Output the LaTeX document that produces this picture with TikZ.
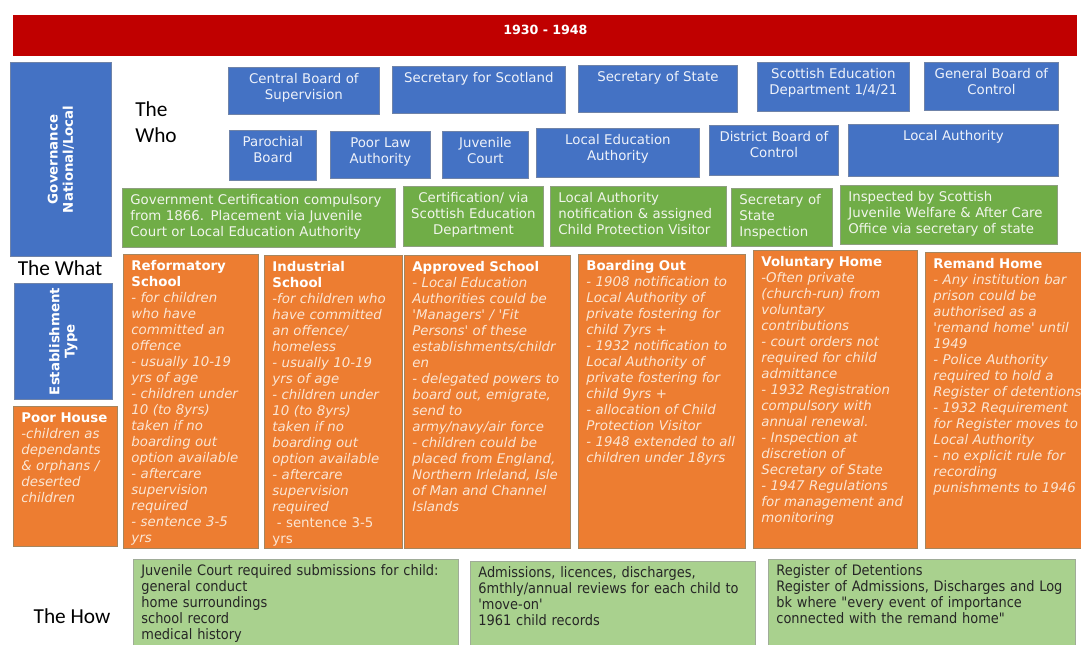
\documentclass[tikz,border=0pt]{standalone}
\usepackage{fontspec}
\setmainfont{DejaVu Sans}
\newfontfamily\headfont{Carlito}
\newfontfamily\howfont{DejaVu Sans Condensed}
\usepackage{tikz}
\usetikzlibrary{positioning}

\definecolor{bannerred}{HTML}{C00000}
\definecolor{whoblue}{HTML}{4472C4}
\definecolor{whoedge}{HTML}{6F83A8}
\definecolor{whotext}{HTML}{EEF2FA}
\definecolor{certgreen}{HTML}{70AD47}
\definecolor{certedge}{HTML}{8E9F80}
\definecolor{certtext}{HTML}{F1F5EC}
\definecolor{estorange}{HTML}{ED7D31}
\definecolor{estedge}{HTML}{A5865F}
\definecolor{esttext}{HTML}{FBE6D4}
\definecolor{howgreen}{HTML}{A9D18E}
\definecolor{howedge}{HTML}{A0AC98}
\definecolor{howtext}{HTML}{262626}

\newcommand\estname[1]{{\upshape\bfseries\color{white}#1}\\}
\hyphenpenalty=10000

\begin{document}
\begin{tikzpicture}[x=0.75pt,y=-0.75pt,
  px/.code 2 args={%
    \pgfmathsetlengthmacro\cellw{#1*0.75pt-2*\pgfkeysvalueof{/pgf/inner xsep}}%
    \pgfmathsetlengthmacro\celld{#2*0.75pt-14pt}%
    \tikzset{text width=\cellw, text height=10pt, text depth=\celld}},
  cell/.style={anchor=north west, inner xsep=6pt, inner ysep=2pt, line width=0.6pt,
    font=\fontsize{10}{12}\selectfont},
  who/.style={cell, fill=whoblue, draw=whoedge, text=whotext, align=center},
  cert/.style={cell, fill=certgreen, draw=certedge, text=certtext, align=left},
  est/.style={cell, fill=estorange, draw=estedge, text=esttext, align=left,
    font=\fontsize{10}{12}\selectfont\itshape},
  how/.style={cell, fill=howgreen, draw=howedge, text=howtext, align=left,
    font=\howfont\fontsize{10.8}{12}\selectfont},
  side/.style={font=\fontsize{10}{11.5}\selectfont\bfseries, text=white, align=center, rotate=90},
  head/.style={font=\headfont\fontsize{16}{19.5}\selectfont, align=left, inner sep=0pt}]

\useasboundingbox (0,0) rectangle (1081,644);

\node[cell, fill=bannerred, draw=none, text=white, align=center, px={1064}{37.5}, text height=12pt,
  font=\fontsize{9.5}{12}\selectfont\bfseries] (period) at (13,15) {1930 - 1948};

\node[who, px={101}{194}] (gov) at (10,62) {};
\node[side] (govlbl) at (gov.center) {Governance\\National/Local};
\node[head, anchor=north west] (who) at (135,101) {The\\Who};

\node[who, px={151}{47}] (cbs) at (228,67) {Central Board of\\Supervision};
\node[who, px={173}{47}] (sfs) at (392,66) {Secretary for Scotland};
\node[who, px={159}{47}] (sos) at (578,65) {Secretary of State};
\node[who, px={152}{49}] (sed) at (757,62) {Scottish Education\\Department 1/4/21};
\node[who, px={134}{48}] (gbc) at (924,62) {General Board of\\Control};

\node[who, px={87}{50}] (pb) at (229,130) {Parochial\\Board};
\node[who, px={100}{47}] (pla) at (330,131) {Poor Law\\Authority};
\node[who, px={86}{47}] (jc) at (442,131) {Juvenile\\Court};
\node[who, px={163}{49}] (lea) at (536,128) {Local Education\\Authority};
\node[who, px={129}{50}] (dbc) at (709,125) {District Board of\\Control};
\node[who, px={210}{52}] (la) at (848,124) {Local Authority};

\node[cert, px={273}{59}] (gcert) at (122,188) {Government Certification compulsory\\from 1866. Placement via Juvenile\\Court or Local Education Authority};
\node[cert, inner xsep=2pt, px={140}{60}, align=center] (sedcert) at (403,186) {Certification/ via\\Scottish Education\\Department};
\node[cert, px={176}{60}] (lacert) at (550,186) {Local Authority\\notification \& assigned\\Child Protection Visitor};
\node[cert, px={101}{58}] (sosinsp) at (731,188) {Secretary of\\State\\Inspection};
\node[cert, px={217}{59}] (sjwinsp) at (840,185) {Inspected by Scottish\\Juvenile Welfare \& After Care\\Office via secretary of state};

\node[head] (what) at (60,268) {The What};
\node[who, px={98}{116}] (estab) at (14,283) {};
\node[side] (establbl) at (estab.center) {Establishment\\Type};
\node[est, px={104}{140}] (poor) at (13,406) {\estname{Poor House}-children as\\dependants\\\& orphans /\\deserted\\children};

\node[est, px={135}{294}] (reform) at (123,254) {\estname{Reformatory\\School}- for  children\\who have\\committed an\\offence\\- usually 10-19\\yrs of age\\- children under\\10 (to 8yrs)\\taken if  no\\boarding out\\option available\\- aftercare\\supervision\\required\\- sentence 3-5\\yrs};
\node[est, px={138}{293}] (indust) at (264,255) {\estname{Industrial\\School}-for  children who\\have committed\\an offence/\\homeless\\- usually 10-19\\yrs of age\\- children under\\10 (to 8yrs)\\taken if  no\\boarding out\\option available\\- aftercare\\supervision\\required\\{\upshape\ - sentence 3-5}\\{\upshape yrs}};
\node[est, px={166}{293}] (approved) at (404,255) {\estname{Approved School}- Local Education\\Authorities could be\\\textquotesingle Managers\textquotesingle{} / \textquotesingle Fit\\Persons\textquotesingle{} of these\\establishments/childr\\en\\- delegated powers to\\board out, emigrate,\\send to\\army/navy/air force\\- children could be\\placed from England,\\Northern Irleland, Isle\\of Man and Channel\\Islands};
\node[est, px={167}{294}] (boarding) at (578,254) {\estname{Boarding  Out}- 1908  notification to\\Local Authority of\\private fostering for\\child 7yrs +\\- 1932 notification to\\Local Authority of\\private fostering for\\child 9yrs +\\- allocation of Child\\Protection Visitor\\- 1948 extended to all\\children under 18yrs};
\node[est, px={164}{298}] (voluntary) at (753,250) {\estname{Voluntary Home}-Often private\\(church-run) from\\voluntary\\contributions\\- court orders not\\required for child\\admittance\\- 1932 Registration\\compulsory  with\\annual renewal.\\- Inspection at\\discretion of\\Secretary of State\\- 1947 Regulations\\for management and\\monitoring};
\node[est, px={185}{296}] (remand) at (925,252) {\estname{Remand Home}- Any institution bar\\prison could be\\authorised as a\\\textquotesingle remand home\textquotesingle{} until\\1949\\- Police Authority\\required to hold a\\Register of detentions\\- 1932 Requirement\\for Register moves to\\Local Authority\\- no explicit rule for\\recording\\punishments to 1946};

\node[head] (how) at (72,616) {The How};
\node[how, px={325}{100}] (howjc) at (133,559) {Juvenile Court required  submissions for child:\\general conduct\\home surroundings\\school record\\medical history};
\node[how, px={285}{100}] (howadm) at (470,561) {Admissions, licences, discharges,\\6mthly/annual reviews for each child  to\\\textquotesingle move-on\textquotesingle\\1961 child  records};
\node[how, px={307}{100}] (howreg) at (768,559) {Register of Detentions\\Register of Admissions, Discharges and Log\\bk where "every event of importance\\connected with the remand home"};
\end{tikzpicture}
\end{document}
